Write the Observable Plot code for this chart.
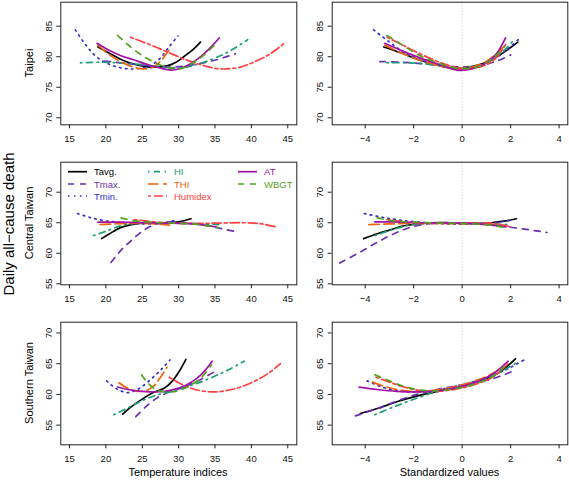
<!DOCTYPE html>
<html>
<head>
<meta charset="utf-8">
<script src="https://cdn.jsdelivr.net/npm/d3@7"></script>
<script src="https://cdn.jsdelivr.net/npm/@observablehq/plot@0.6"></script>
<style>
  body { margin: 0; background: #fff; }
  #wrap { position: relative; width: 569px; height: 480px; overflow: hidden; font-family: "Liberation Sans", Arial, sans-serif; }
  #wrap > svg, #wrap > .p { position: absolute; }
</style>
</head>
<body>
<div id="wrap"></div>
<script>
// ---- series definitions ----
const series = ["Tavg.", "Tmax.", "Tmin.", "HI", "THI", "Humidex", "AT", "WBGT"];
const colors = ["#000000", "#6B2FB3", "#3030CC", "#1B9E77", "#EE640C", "#FF4040", "#A012A8", "#56A01E"];
const dashes = [null, "6,6", "1.5,4.5", "1.5,4.5,6,4.5", "10.5,4.5", "3,3,9,3", null, "6,6"];

// ---- axes ----
const xTicksIdx = [15, 20, 25, 30, 35, 40, 45];
const xTicksStd = [-4, -2, 0, 2, 4];
const yTicksTaipei = [70, 75, 80, 85];
const yTicksCentral = [55, 60, 65, 70];
const yTicksSouth = [55, 60, 65, 70];
const regions = ["Taipei", "Central Taiwan", "Southern Taiwan"];

// ---- Taipei, temperature indices ----
const taipeiIdx = {
  "Tavg.": [[18.9,81.6],[20.6,80.5],[22,79.6],[23.8,78.8],[26,78.3],[28.4,78.5],[29.5,79.0],[30.7,80.0],[32,81.2],[33,82.4]],
  "Tmax.": [[19.8,79.3],[22,79.0],[24.5,78.7],[27,78.4],[29,78.3],[31,78.5],[33,78.9],[35.5,79.6],[37.8,80.5]],
  "Tmin.": [[15.8,84.4],[17,82.3],[18.5,80.2],[20,79.0],[22,78.2],[24,78.0],[26,78.5],[27.5,79.8],[28.8,81.8],[29.9,83.4]],
  "HI": [[16.5,79.0],[19,79.1],[21.5,79.0],[24,78.8],[26.5,78.5],[29,78.2],[31,78.3],[33,78.9],[35,79.8],[37,80.9],[39.5,82.8]],
  "THI": [[18.9,81.9],[20.5,80.3],[22,79.2],[23.5,78.4],[25,78.0],[26.3,78.2],[27.3,79.0],[28.2,80.3],[28.9,81.5]],
  "Humidex": [[23.4,83.2],[26,82.0],[28.4,80.8],[31,79.5],[33,78.7],[35,78.1],[36.5,78.0],[38.5,78.3],[40.3,79.1],[42.5,80.4],[44.4,82.1]],
  "AT": [[18.8,82.2],[20.5,81.0],[22,80.2],[23.8,79.5],[26,78.6],[28,78.0],[29,77.8],[30.5,78.2],[32,79.1],[33.5,80.5],[34.7,81.9],[35.6,83.1]],
  "WBGT": [[21.6,83.5],[23,82.0],[25,80.2],[27,78.9],[29,78.1],[30.5,78.1],[32,79.0],[33.5,80.3],[35,82.0]]
};
// ---- Taipei, standardized ----
const taipeiStd = {
  "Tavg.": [[-3.23,81.6],[-2.5,80.6],[-1.8,79.5],[-1,78.6],[-0.3,78.1],[0.3,78.3],[1,79.1],[1.6,80.4],[2.3,82.4]],
  "Tmax.": [[-3.4,79.2],[-2.5,79.1],[-1.5,78.8],[-0.5,78.4],[0.3,78.4],[1,78.8],[1.5,79.4],[2.0,80.3]],
  "Tmin.": [[-3.65,84.4],[-3,82.4],[-2.3,80.5],[-1.5,79.2],[-0.7,78.3],[0,78.0],[0.6,78.3],[1.2,79.3],[1.8,81.0],[2.4,83.1]],
  "HI": [[-3.1,79.0],[-2.2,79.0],[-1.2,78.7],[-0.3,78.2],[0.3,78.3],[0.9,78.9],[1.4,80.0],[1.8,81.3],[2.1,82.6]],
  "THI": [[-3.19,81.9],[-2.5,80.6],[-1.8,79.5],[-1,78.6],[-0.3,78.0],[0.3,78.2],[0.9,79.0],[1.35,80.3],[1.7,81.6]],
  "Humidex": [[-3.1,83.2],[-2.5,82.0],[-1.8,80.6],[-1,79.2],[-0.2,78.2],[0.4,78.1],[1,78.7],[1.4,79.8],[1.8,82.0]],
  "AT": [[-3.19,82.2],[-2.5,81.0],[-1.8,79.9],[-1,78.8],[-0.2,77.8],[0.4,78.0],[1,79.0],[1.4,80.4],[1.79,83.1]],
  "WBGT": [[-3.1,83.5],[-2.5,82.0],[-1.8,80.3],[-1,79.0],[-0.2,78.1],[0.5,78.2],[1,79.0],[1.4,80.2],[1.75,81.7]]
};
// ---- Central Taiwan, temperature indices ----
const centralIdx = {
  "Tavg.": [[19.4,62.4],[20.5,63.2],[22,64.2],[23.5,64.7],[25.5,65.0],[28,64.95],[30,65.15],[31.7,65.65]],
  "Tmax.": [[20.7,58.5],[22,60.4],[23.5,62.1],[25,63.6],[26.5,64.6],[28.5,65.1],[31,65.0],[33.5,64.6],[36,64.0],[38.1,63.5]],
  "Tmin.": [[16.1,66.5],[18,65.8],[20,65.3],[22.5,65.0],[25,64.8],[27,64.9],[28.5,65.1],[29.8,65.5]],
  "HI": [[18.3,62.9],[20,63.6],[22,64.5],[24,64.9],[27,65.0],[30,64.9],[33,64.8],[35.5,64.7]],
  "THI": [[19.2,64.7],[21,64.8],[23,64.9],[25,64.9],[27,64.8],[28.7,64.6]],
  "Humidex": [[23.9,65.5],[27,65.1],[30,64.9],[33,64.9],[36,64.95],[39,65.0],[41.5,64.8],[43.4,64.3]],
  "AT": [[18.9,65.1],[22,65.1],[25,65.0],[28,64.95],[31,64.9],[33,64.7],[35.2,64.3]],
  "WBGT": [[22.1,65.8],[24,65.3],[26,65.1],[29,64.95],[32,64.8],[34,64.5],[35.5,64.2]]
};
// ---- Central Taiwan, standardized ----
const centralStd = {
  "Tavg.": [[-4.06,62.4],[-3.5,63.2],[-3,63.8],[-2.4,64.5],[-1.5,64.95],[-0.5,65.0],[0.5,64.9],[1.2,65.0],[1.8,65.3],[2.24,65.65]],
  "Tmax.": [[-5.05,58.4],[-4.3,60.0],[-3.5,61.8],[-2.7,63.4],[-2,64.4],[-1.2,64.9],[-0.3,65.0],[0.5,64.9],[1.5,64.5],[2.5,64.0],[3.5,63.4]],
  "Tmin.": [[-4.03,66.5],[-3.3,65.9],[-2.5,65.4],[-1.5,65.0],[-0.5,64.8],[0.5,64.8],[1.2,64.95],[2.0,65.4]],
  "HI": [[-3.6,62.9],[-3,63.7],[-2.3,64.5],[-1.5,64.9],[-0.5,65.0],[0.5,64.9],[1.3,64.8],[1.9,64.7]],
  "THI": [[-3.85,64.7],[-3,64.8],[-2,64.9],[-1,64.9],[0,64.85],[1,64.7],[1.7,64.5]],
  "Humidex": [[-3.1,65.5],[-2.2,65.1],[-1.2,64.9],[0,64.9],[0.8,64.95],[1.3,64.9],[1.7,64.6],[2.0,64.3]],
  "AT": [[-3.6,65.15],[-2.5,65.1],[-1.5,65.0],[-0.5,64.95],[0.5,64.85],[1.2,64.6],[1.8,64.3]],
  "WBGT": [[-3.5,65.8],[-2.8,65.3],[-2,65.1],[-1,64.95],[0,64.85],[1,64.7],[1.5,64.4],[1.8,64.2]]
};
// ---- Southern Taiwan, temperature indices ----
const southIdx = {
  "Tavg.": [[22.3,56.8],[23.5,58.0],[25.2,59.4],[26.5,60.3],[28,61.0],[29,62.0],[30,63.6],[31,65.7]],
  "Tmax.": [[24.1,56.4],[25.5,58.0],[27,59.4],[28.5,60.3],[30,60.9],[31.5,61.6],[33,62.4],[34.8,63.6]],
  "Tmin.": [[20.1,62.2],[21.5,60.9],[22.9,60.3],[24,60.6],[25,61.3],[26.5,62.8],[27.8,64.3],[28.8,65.6]],
  "HI": [[21.1,56.7],[23,57.8],[25,59.0],[27,59.9],[29,60.5],[31,61.2],[33,62.0],[35,63.0],[37,64.1],[39,65.4]],
  "THI": [[21.8,61.9],[23,61.0],[24.3,60.5],[25.5,60.6],[26.5,61.3],[27.5,62.8],[28.4,64.4]],
  "Humidex": [[28.7,62.8],[30,61.9],[31.5,61.1],[33,60.6],[34.8,60.4],[36.5,60.6],[38.5,61.2],[40.5,62.2],[42.3,63.4],[44,65.0]],
  "AT": [[21.6,61.2],[23,60.8],[25,60.5],[27,60.4],[29,60.7],[31,61.5],[32.5,62.6],[33.7,64.0],[34.6,65.4]],
  "WBGT": [[24.9,63.2],[25.8,61.8],[27,60.7],[28.5,60.4],[30,60.6],[31.5,61.4],[33,62.6],[34.5,64.8]]
};
// ---- Southern Taiwan, standardized ----
const southStd = {
  "Tavg.": [[-4.2,56.9],[-3.5,57.7],[-2.7,58.8],[-1.8,59.8],[-1,60.5],[0,61.3],[0.8,62.3],[1.5,63.5],[2.2,65.8]],
  "Tmax.": [[-4.4,56.5],[-3.5,57.7],[-2.5,59.2],[-1.5,60.4],[-0.5,61.2],[0.5,61.9],[1.3,62.6],[2.1,63.8]],
  "Tmin.": [[-3.92,62.2],[-3.3,61.2],[-2.7,60.6],[-2,60.4],[-1.2,60.6],[-0.3,61.3],[0.6,62.2],[1.4,63.3],[2.0,64.4],[2.55,65.6]],
  "HI": [[-3.6,56.7],[-2.8,58.0],[-2,59.2],[-1.2,60.3],[-0.5,61.0],[0.3,61.7],[1,62.6],[1.7,63.9],[2.3,65.3]],
  "THI": [[-3.7,62.0],[-3.2,61.3],[-2.6,60.7],[-2,60.5],[-1.3,60.6],[-0.5,61.1],[0.3,61.9],[1,62.9],[1.7,64.4]],
  "Humidex": [[-3.55,62.8],[-3,62.0],[-2.4,61.2],[-1.7,60.6],[-1,60.5],[-0.2,60.9],[0.6,61.7],[1.3,62.9],[1.9,65.0]],
  "AT": [[-4.25,61.2],[-3.5,60.8],[-2.7,60.5],[-1.8,60.4],[-1,60.6],[0,61.3],[0.7,62.2],[1.3,63.4],[1.9,65.4]],
  "WBGT": [[-3.6,63.2],[-3,62.2],[-2.4,61.3],[-1.7,60.7],[-1,60.6],[-0.2,61.0],[0.6,61.8],[1.3,63.0],[1.8,64.8]]
};

// ---- layout ----
const wrap = document.getElementById("wrap");
const xDomIdx = [13.8, 46.24], xDomStd = [-5.36, 4.36];
const rowsCfg = [
  {idx: taipeiIdx, std: taipeiStd, ydom: [68.85, 88.93], yticks: yTicksTaipei},
  {idx: centralIdx, std: centralStd, ydom: [54.84, 74.91], yticks: yTicksCentral},
  {idx: southIdx, std: southStd, ydom: [51.8, 71.75], yticks: yTicksSouth}
];

function panel(data, col, row, cfg) {
  const width = col === 0 ? 300 : 269;
  const left = col === 0 ? 0 : 300;
  const marks = [];
  if (col === 1) marks.push(Plot.ruleX([0], {stroke: "#c8c8c8", strokeDasharray: "1,2", strokeWidth: 1}));
  series.forEach((s, i) => {
    const pts = (data[s] || []).map(([x, y]) => ({x, y}));
    marks.push(Plot.line(pts, {x: "x", y: "y", stroke: colors[i], strokeWidth: 1.7,
      strokeDasharray: dashes[i] || undefined, curve: "catmull-rom"}));
  });
  marks.push(Plot.frame({stroke: "#222", strokeWidth: 1}));
  marks.push(Plot.axisX(col === 0 ? xTicksIdx : xTicksStd, {tickSize: 4, tickPadding: 6, label: null, stroke: "#222"}));
  marks.push(Plot.axisY(cfg.yticks, {tickSize: 4, tickPadding: 5, tickRotate: -90, label: null, stroke: "#222"}));
  const p = Plot.plot({
    width, height: 160,
    marginLeft: col === 0 ? 60.3 : 31.7,
    marginRight: col === 0 ? 3.7 : 1.7,
    marginTop: 1.7, marginBottom: 35.7,
    x: {domain: col === 0 ? xDomIdx : xDomStd},
    y: {domain: cfg.ydom},
    style: {fontFamily: "'Liberation Sans', Arial, sans-serif", fontSize: "9.5px", color: "#111", background: "transparent", overflow: "visible"},
    marks
  });
  p.style.position = "absolute";
  p.style.left = left + "px";
  p.style.top = (row * 160) + "px";
  wrap.appendChild(p);
}

rowsCfg.forEach((cfg, r) => {
  panel(cfg.idx, 0, r, cfg);
  panel(cfg.std, 1, r, cfg);
});

// ---- overlay: titles and legend ----
const ns = "http://www.w3.org/2000/svg";
const ov = document.createElementNS(ns, "svg");
ov.setAttribute("width", 569); ov.setAttribute("height", 480);
ov.style.position = "absolute"; ov.style.left = "0"; ov.style.top = "0";
ov.style.fontFamily = "'Liberation Sans', Arial, sans-serif";
wrap.appendChild(ov);
function txt(str, attrs) {
  const t = document.createElementNS(ns, "text");
  for (const k in attrs) t.setAttribute(k, attrs[k]);
  t.textContent = str;
  ov.appendChild(t);
  return t;
}
txt("Daily all\u2212cause death", {transform: "translate(14,224) rotate(-90)", "text-anchor": "middle", "font-size": 15});
regions.forEach((r, i) => {
  txt(r, {transform: `translate(33,${63 + i * 160}) rotate(-90)`, "text-anchor": "middle", "font-size": 11});
});
txt("Temperature indices", {x: 178, y: 476, "text-anchor": "middle", "font-size": 11});
txt("Standardized values", {x: 449.5, y: 476, "text-anchor": "middle", "font-size": 11});

// legend (inside Central Taiwan, temperature indices panel)
const legCols = [68, 148, 238];
const legRows = [171.7, 184, 196];
series.forEach((s, i) => {
  const c = Math.floor(i / 3), r = i % 3;
  const x0 = legCols[c], y = legRows[r];
  const l = document.createElementNS(ns, "line");
  l.setAttribute("x1", x0); l.setAttribute("x2", x0 + 19);
  l.setAttribute("y1", y); l.setAttribute("y2", y);
  l.setAttribute("stroke", colors[i]); l.setAttribute("stroke-width", 1.7);
  if (dashes[i]) l.setAttribute("stroke-dasharray", dashes[i]);
  ov.appendChild(l);
  txt(s, {x: x0 + 26, y: y, "dominant-baseline": "central", "font-size": 9.5, fill: colors[i]});
});
</script>
</body>
</html>
